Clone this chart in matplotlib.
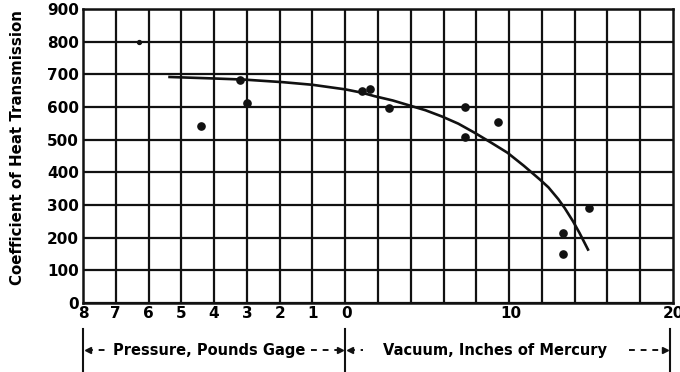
import numpy as np
import matplotlib.pyplot as plt

# pressure side (pounds gage) and vacuum side (inches of mercury) readings
press_psi = [6.3, 4.4, 3.2, 3.0]
press_coef = [800, 543, 684, 613]
vac_inhg = [1.0, 1.5, 2.7, 7.3, 7.3, 9.3, 14.9, 13.3, 13.3]
vac_coef = [650, 655, 598, 601, 509, 555, 291, 215, 150]

# faired curve
curve_psi = [5.4, 4.2, 3.1, 1.9, 1.0, 0.0]
curve_p_coef = [692, 688, 684, 676, 668, 654]
curve_inhg = [1.0, 1.8, 2.9, 3.9, 4.9, 5.9, 6.9, 7.9, 8.9, 9.9, 10.9,
              11.9, 12.4, 13.0, 13.4, 13.9, 14.3, 14.85]
curve_v_coef = [644, 633, 620, 605, 590, 571, 549, 521, 491, 460, 420,
                377, 354, 318, 290, 250, 214, 160]

xtick_labels = ['8', '7', '6', '5', '4', '3', '2', '1', '0', '10', '20']


# one grid column = 1 lb gage on the left, 2 in. Hg on the right
def gage(psi):
    return -np.asarray(psi, dtype=float)


def vac(inhg):
    return np.asarray(inhg, dtype=float) / 2.0


plt.rcParams['font.family'] = ['DejaVu Sans']
plt.rcParams['font.weight'] = 'bold'

fig = plt.figure(figsize=(6.8, 3.72), dpi=100)
ax = fig.add_axes([83 / 680, 1 - 303 / 372, 590 / 680, 294 / 372])

ax.set_xlim(-8, 10)
ax.set_ylim(0, 900)
for gx in np.arange(-7, 10, 1):
    ax.axvline(gx, color='#111111', linewidth=1.6, zorder=1)
ax.yaxis.grid(True, which='major', color='#111111', linewidth=1.6)
ax.tick_params(which='both', length=0)
for sp in ax.spines.values():
    sp.set_color('#111111')
    sp.set_linewidth(1.8)

ax.set_xticks(list(gage([8, 7, 6, 5, 4, 3, 2, 1])) + [0.05, 5.05, 10.0])
ax.set_xticklabels(xtick_labels, fontsize=11, fontweight='bold')
ax.tick_params(axis='x', pad=2)
ax.set_yticks(np.arange(0, 901, 100))
ax.set_yticklabels([str(v) for v in range(0, 901, 100)], fontsize=11,
                   fontweight='bold')
ax.tick_params(axis='y', pad=3)

curve_x = np.concatenate([gage(curve_psi), vac(curve_inhg)])
curve_y = np.concatenate([curve_p_coef, curve_v_coef])
ax.plot(curve_x, curve_y, color='#111111', linewidth=1.9,
        solid_capstyle='butt', solid_joinstyle='round', zorder=3)

ax.plot(gage(press_psi[1:]), press_coef[1:], 'o', color='#111111',
        markersize=5.2, zorder=4)
ax.plot(gage(press_psi[:1]), press_coef[:1], 'o', color='#111111',
        markersize=2.8, zorder=4)
ax.plot(vac(vac_inhg), vac_coef, 'o', color='#111111', markersize=5.2,
        zorder=4)

fig.text(18 / 680, 1 - 148 / 372, 'Coefficient of Heat Transmission',
         rotation=90, ha='center', va='center', fontsize=10.8,
         fontweight='bold')

# scale captions below the axis, drawn in pixel coordinates
ov = fig.add_axes([0, 0, 1, 1])
ov.set_xlim(0, 680)
ov.set_ylim(372, 0)
ov.axis('off')
for bx in (83, 345, 670):
    ov.plot([bx, bx], [329, 372], color='#111111', linewidth=1.5)

for x0, x1, label, lx0, lx1 in [
        (83, 345, 'Pressure, Pounds Gage', 112, 306),
        (345, 670, 'Vacuum, Inches of Mercury', 366, 624)]:
    ov.text((lx0 + lx1) / 2, 351, label, ha='center', va='center',
            fontsize=10.5, fontweight='bold')
    ov.plot([x0 + 4, lx0 - 3], [350, 350], color='#111111',
            linewidth=1.4, linestyle=(0, (3, 3)))
    ov.plot([lx1 + 5, x1 - 4], [350, 350], color='#111111',
            linewidth=1.4, linestyle=(0, (3, 3)))
    ov.plot([x0 + 5], [350], marker='<', color='#111111', markersize=5)
    ov.plot([x1 - 5], [350], marker='>', color='#111111', markersize=5)

fig.savefig('out.png', dpi=100)
